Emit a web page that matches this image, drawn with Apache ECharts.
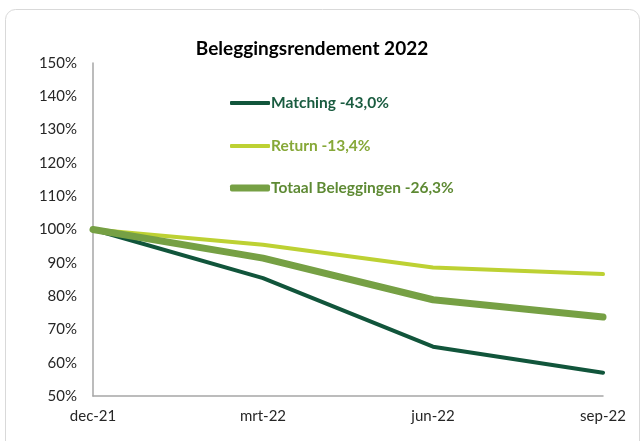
<!DOCTYPE html>
<html>
<head>
<meta charset="utf-8">
<script src="https://cdn.jsdelivr.net/npm/echarts@6/dist/echarts.min.js"></script>
<style>
  html, body { margin: 0; padding: 0; background: #fff; }
  #chart { width: 643px; height: 441px; }
</style>
</head>
<body>
<div id="chart"></div>
<script>
var categories = ["dec-21", "mrt-22", "jun-22", "sep-22"];
var matching = [100, 85.4, 64.8, 57.0];
var returnData = [100, 95.4, 88.6, 86.6];
var totaal = [100, 91.4, 78.9, 73.7];
var names = ["Matching -43,0%", "Return -13,4%", "Totaal Beleggingen -26,3%"];
var lineColors = ["#11553b", "#bdd133", "#76a044"];
var textColors = ["#1a5c40", "#86a838", "#5e8a34"];
var lineWidths = [4, 4, 7];
var legendTops = [102, 145, 187];

var font = "Lato, 'Liberation Sans', sans-serif";

// one legend per series so each icon can have its own thickness
function makeLegend(i) {
  return {
    orient: "vertical",
    left: 225,
    top: legendTops[i] - 12,
    height: 18,
    icon: "roundRect",
    itemWidth: 40,
    itemHeight: lineWidths[i],
    data: [{ name: names[i], textStyle: { color: textColors[i] } }],
    textStyle: { fontFamily: font, fontSize: 15.5, fontWeight: "bold", padding: [0, 0, 0, -4] }
  };
}

var chart = echarts.init(document.getElementById("chart"));
var option = {
  backgroundColor: "#fff",
  animation: false,
  title: {
    text: "Beleggingsrendement 2022",
    left: 307,
    top: 34,
    textAlign: "center",
    textStyle: { fontFamily: font, fontSize: 19, fontWeight: "bold", color: "#000" }
  },
  legend: [makeLegend(0), makeLegend(1), makeLegend(2)],
  grid: { left: 93, right: 40, top: 63, bottom: 45 },
  xAxis: {
    type: "category",
    data: categories,
    boundaryGap: false,
    axisLine: { lineStyle: { color: "#a6a6a6", width: 1.5 } },
    axisTick: { show: false },
    axisLabel: { fontFamily: font, fontSize: 15, color: "#262626", margin: 13 }
  },
  yAxis: {
    type: "value",
    min: 50,
    max: 150,
    interval: 10,
    axisLine: { show: true, lineStyle: { color: "#a6a6a6", width: 1.5 } },
    axisTick: { show: false },
    splitLine: { show: false },
    axisLabel: { fontFamily: font, fontSize: 15, color: "#262626", margin: 16, formatter: "{value}%" }
  },
  graphic: [{
    type: "rect",
    shape: { x: 5.5, y: 9.5, width: 634, height: 460, r: 10 },
    style: { fill: "none", stroke: "#d9d9d9", lineWidth: 1 },
    z: -1
  }],
  series: [
    { name: names[0], type: "line", data: matching, symbol: "none",
      lineStyle: { color: lineColors[0], width: lineWidths[0], cap: "round" }, itemStyle: { color: lineColors[0] } },
    { name: names[1], type: "line", data: returnData, symbol: "none",
      lineStyle: { color: lineColors[1], width: lineWidths[1], cap: "round" }, itemStyle: { color: lineColors[1] } },
    { name: names[2], type: "line", data: totaal, symbol: "none",
      lineStyle: { color: lineColors[2], width: lineWidths[2], cap: "round" }, itemStyle: { color: lineColors[2] } }
  ]
};
chart.setOption(option);
</script>
</body>
</html>
